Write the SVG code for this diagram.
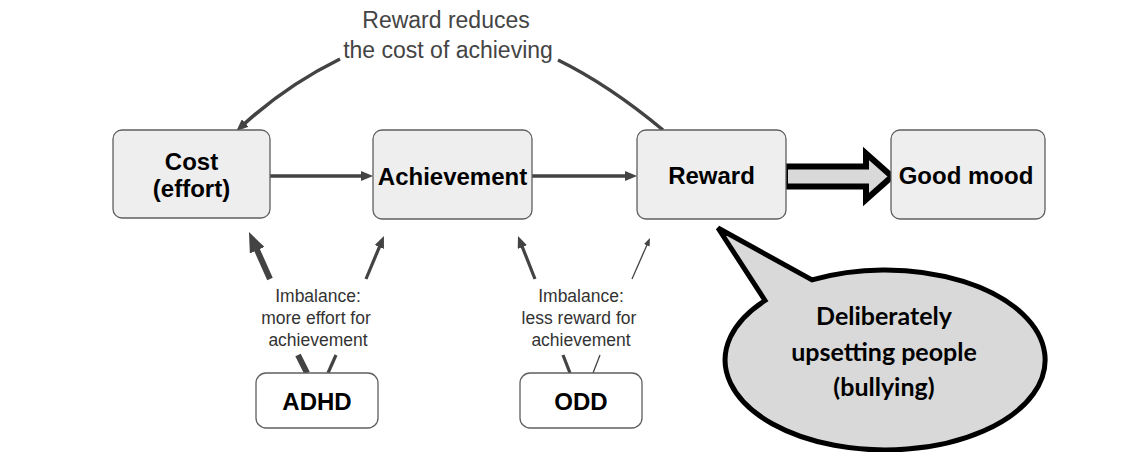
<svg xmlns="http://www.w3.org/2000/svg" width="1143" height="452" viewBox="0 0 1143 452">
<style>
.box{fill:#eeeeee;stroke:#5f5f5f;stroke-width:1.3}
.wbox{fill:#ffffff;stroke:#5f5f5f;stroke-width:1.3}
.lbl{font-family:"Liberation Sans",Arial,sans-serif;font-weight:bold;font-size:24px;fill:#000;text-anchor:middle}
.note{font-family:"Liberation Sans",Arial,sans-serif;font-size:17.5px;fill:#333;text-anchor:middle}
.top{font-family:"Liberation Sans",Arial,sans-serif;font-size:23px;fill:#444;text-anchor:middle}
.bub{font-family:Lato,"Open Sans",sans-serif;font-weight:bold;font-size:25px;fill:#000;text-anchor:middle}
.c{fill:none;stroke:#434343;stroke-linecap:butt}
</style>
<defs>
<marker id="arr" markerUnits="userSpaceOnUse" viewBox="0 0 12 10" markerWidth="12" markerHeight="10" refX="3" refY="5" orient="auto"><path d="M0,0 L12,5 L0,10 z" fill="#434343"/></marker>
<marker id="arrBig" markerUnits="userSpaceOnUse" viewBox="0 0 20 16" markerWidth="20" markerHeight="16" refX="6" refY="8" orient="auto"><path d="M0,0 L20,8 L0,16 z" fill="#434343"/></marker>
<marker id="arrThin" markerUnits="userSpaceOnUse" viewBox="0 0 8 6" markerWidth="8" markerHeight="6" refX="2" refY="3" orient="auto"><path d="M0,0 L8,3 L0,6 z" fill="#434343"/></marker>
</defs>
<rect width="1143" height="452" fill="#ffffff"/>

<g id="connectors">
<path class="c" stroke-width="3.5" d="M270,176 L364,176" marker-end="url(#arr)"/>
<path class="c" stroke-width="3.5" d="M532,176 L628,176" marker-end="url(#arr)"/>
<path class="c" stroke-width="3.5" d="M663,130 Q609,85 558,60 M340,59 Q287,85 243,125" marker-end="url(#arr)"/>
<path class="c" stroke-width="6" d="M270,279 L254.7,244.8" marker-end="url(#arrBig)"/>
<path class="c" stroke-width="3.2" d="M366,279 L380.5,244.3" marker-end="url(#arr)"/>
<path class="c" stroke-width="3.2" d="M535,279 L521.3,244.3" marker-end="url(#arr)"/>
<path class="c" stroke-width="1.3" d="M632,279 L647.6,243.5" marker-end="url(#arrThin)"/>
<path class="c" stroke-width="6" d="M298,355 L307,373"/>
<path class="c" stroke-width="3.2" d="M336,355 L328,373"/>
<path class="c" stroke-width="3.2" d="M563,355 L570,373"/>
<path class="c" stroke-width="1.3" d="M600,355 L593,373"/>
<path d="M785,166.5 L866,166.5 L866,153.5 L892,176.5 L866,199.5 L866,186.5 L785,186.5 Z" fill="#d9d9d9" stroke="#000" stroke-width="6" stroke-linejoin="miter" stroke-miterlimit="10"/>
</g>

<g id="label-top">
<text class="top" x="446" y="28">Reward reduces</text>
<text class="top" x="448" y="58">the cost of achieving</text>
</g>

<g id="node-cost">
<rect class="box" x="113" y="130" width="157" height="88" rx="9"/>
<text class="lbl" x="191.5" y="170">Cost</text>
<text class="lbl" x="191.5" y="197">(effort)</text>
</g>
<g id="node-achievement">
<rect class="box" x="373" y="130" width="159" height="89" rx="9"/>
<text class="lbl" x="452.5" y="185">Achievement</text>
</g>
<g id="node-reward">
<rect class="box" x="637" y="130" width="149" height="89" rx="9"/>
<text class="lbl" x="711.5" y="184">Reward</text>
</g>
<g id="node-goodmood">
<rect class="box" x="891" y="130" width="154" height="89" rx="9"/>
<text class="lbl" x="966" y="184">Good mood</text>
</g>

<g id="label-adhd">
<text class="note" x="318" y="302">Imbalance:</text>
<text class="note" x="316" y="324">more effort for</text>
<text class="note" x="318" y="346">achievement</text>
</g>
<g id="label-odd">
<text class="note" x="581" y="302">Imbalance:</text>
<text class="note" x="579" y="324">less reward for</text>
<text class="note" x="581" y="346">achievement</text>
</g>

<g id="node-adhd">
<rect class="wbox" x="256" y="373" width="122" height="55" rx="10"/>
<text class="lbl" x="317" y="410">ADHD</text>
</g>
<g id="node-odd">
<rect class="wbox" x="520" y="373" width="122" height="55" rx="10"/>
<text class="lbl" x="581" y="410">ODD</text>
</g>

<g id="node-bubble">
<path d="M765,300.5 L718,228 L812,279.9 A160,90 0 1,1 765,300.5 Z" fill="#d9d9d9" stroke="#000" stroke-width="5" stroke-linejoin="miter"/>
<text class="bub" x="884" y="325">Deliberately</text>
<text class="bub" x="884" y="361">upsetting people</text>
<text class="bub" x="884" y="396">(bullying)</text>
</g>
</svg>
